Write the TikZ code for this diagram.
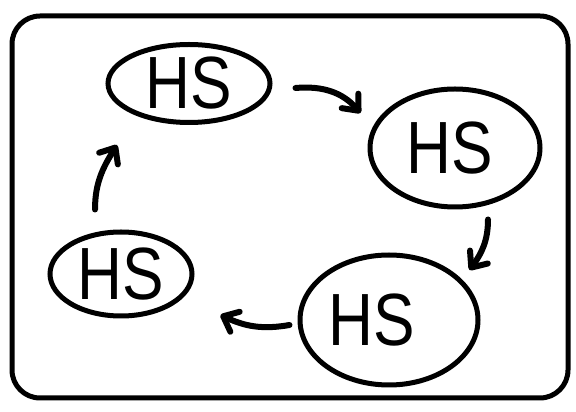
\documentclass[tikz,border=0pt]{standalone}
\usepackage{fontspec}
\usepackage{graphicx}
\setmainfont{Liberation Sans}
\usetikzlibrary{shapes.geometric,arrows.meta}
\tikzset{
  hs/.style={ellipse, draw, line width=5pt, inner sep=0pt, font=\fontsize{74}{74}\selectfont},
  arr/.style={line width=6pt, line cap=round, -{Straight Barb[round,length=13pt,width=22pt]}},
  frame/.style={line width=5pt, rounded corners=28pt}
}
\newcommand{\hstext}[1][0pt]{\scalebox{0.84}[1]{HS}\hspace*{#1}}
\begin{document}
\begin{tikzpicture}[x=1pt,y=1pt]
\useasboundingbox (0,0) rectangle (576,412);
\draw[frame] (12,14) rectangle (568,396);
\node[hs, minimum width=162pt, minimum height=78pt] (hs1) at (189,328.5) {\hstext};
\node[hs, minimum width=170pt, minimum height=118pt] (hs2) at (455,264) {\hstext[10pt]};
\node[hs, minimum width=178pt, minimum height=130pt] (hs3) at (389,92) {\hstext[34pt]};
\node[hs, minimum width=142pt, minimum height=84pt] (hs4) at (121,138) {\hstext};
\draw[arr] ([shift={(23,-4.5)}]hs1.east) to[out=5,in=131] ([shift={(-7,35)}]hs2.west);
\draw[arr] ([shift={(33,-10)}]hs2.south) to[out=-90,in=54] ([shift={(-11,50)}]hs3.east);
\draw[arr] ([shift={(-8,-5)}]hs3.west) to[out=190,in=-25] ([shift={(26,-41)}]hs4.east);
\draw[arr] ([shift={(-26,20)}]hs4.north) to[out=90,in=238] ([shift={(-72,-20)}]hs1.south);
\end{tikzpicture}
\end{document}
